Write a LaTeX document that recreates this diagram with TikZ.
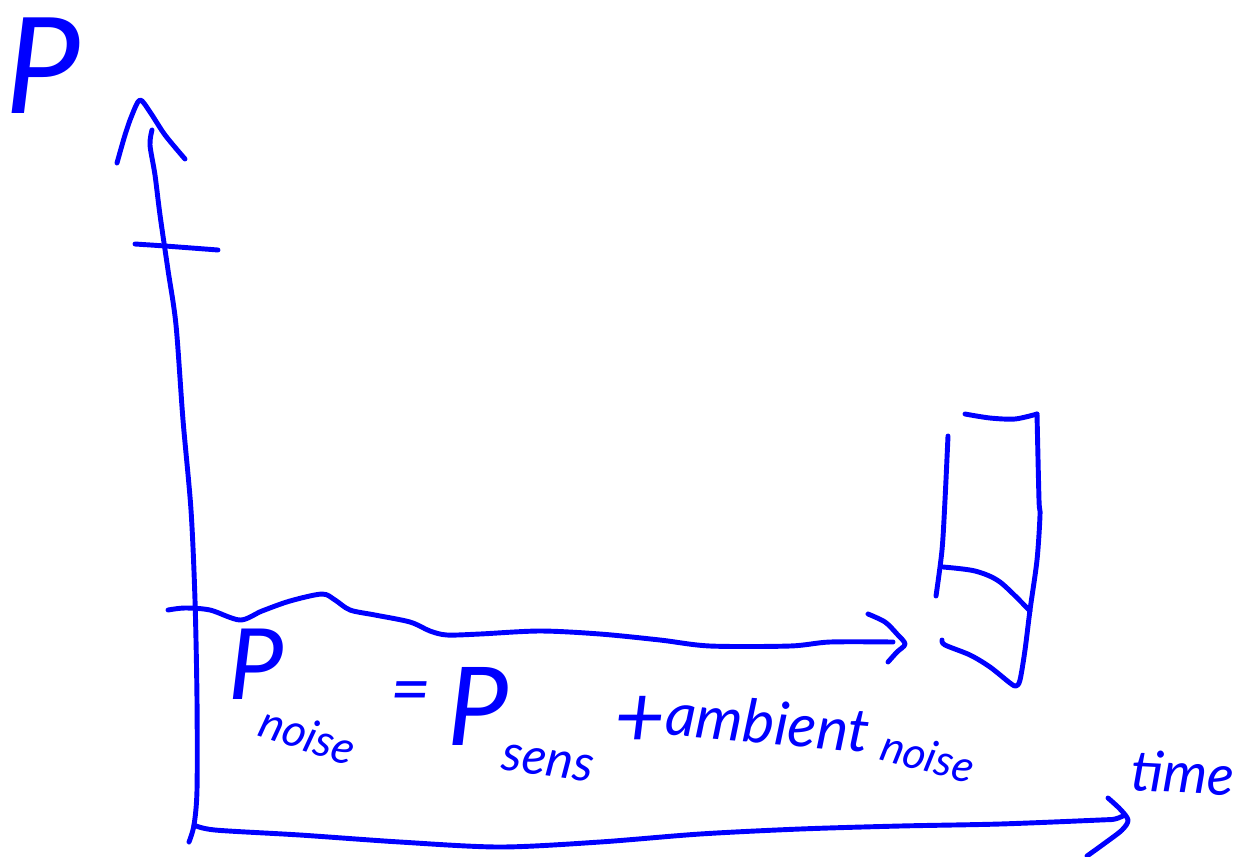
\documentclass[tikz,border=0pt]{standalone}
\usepackage{fontspec}
\setmainfont{Lato}
\usetikzlibrary{calc}

\tikzset{
  pen/.style={blue,line width=2.8pt,line cap=round,line join=round},
  ink/.style={blue,inner sep=0pt,font=\itshape},
}
\newcommand{\inksize}[1]{\fontsize{#1}{#1}\selectfont}

\begin{document}
\begin{tikzpicture}[
        x=0.02cm,
        y=-0.02cm
      ]
        \useasboundingbox (0,0) rectangle (1240,856);

        % Axes ----------------------------------------------------
        \draw[pen] plot[smooth] coordinates {(152,130) (150,145) (155,175) (160,215) (168,270) (176,325) (183,420) (191,510) (195,600) (197,700) (197,790) (194,825) (189,842)}; % y-axis
        \draw[pen] plot[smooth] coordinates {(117,163) (125,135) (132,115) (140,100) (150,112) (165,135) (185,159)};
        \draw[pen] plot[smooth] coordinates {(194,825) (215,830) (300,835) (400,842) (500,847) (600,842) (700,834) (800,829) (900,826) (1000,824) (1100,820) (1115,819) (1125,815)}; % x-axis
        \draw[pen] plot[smooth] coordinates {(1108,798) (1120,809) (1128,820) (1122,830) (1105,843) (1087,856)};

        % Tick on the y-axis
        \draw[pen] plot[smooth] coordinates {(135,244) (165,246) (218,250)};

        % Noise level ---------------------------------------------
        \draw[pen] plot[smooth] coordinates {(168,610) (185,608) (210,610) (240,620) (262,611) (290,601) (322,594) (335,600) (350,610) (375,615) (410,622) (430,631) (447,635) (480,634) (540,631) (600,634) (660,640) (710,646) (790,646) (830,642) (893,642)};
        \draw[pen] plot[smooth] coordinates {(868,614) (885,622) (897,634) (905,644) (897,652) (888,662)};

        % Bar at the end ------------------------------------------
        \draw[pen] plot[smooth] coordinates {(948,436) (945,500) (942,550) (936,596)};
        \draw[pen] plot[smooth] coordinates {(965,414) (990,418) (1015,419) (1037,414)};
        \draw[pen] plot[smooth] coordinates {(1037,414) (1039,500) (1040,515) (1037,560) (1030,610) (1025,650) (1020,680) (1016,686) (1010,683) (990,667) (970,655) (945,645) (942,640)};
        \draw[pen] plot[smooth] coordinates {(943,567) (975,571) (1000,582) (1030,611)};

        % Labels --------------------------------------------------
        \node[ink] (powerlabel) at (43,66) {\inksize{76}P};
        \node[ink] (noiseP) at (256,664) {\inksize{56}P};
        \node[ink,rotate=-18] (noisesub) at (308,735) {\inksize{26}noise};
        \node[ink] (equals) at (411,698) {\inksize{40}=};
        \node[ink] (sensP) at (478,706) {\inksize{62}P};
        \node[ink,rotate=-8] (senssub) at (548,763) {\inksize{29}sens};
        \node[ink] (plus) at (640,722) {\inksize{50}+};
        \node[ink,rotate=-5] (ambient) at (768,722) {\inksize{34}ambient};
        \node[ink,rotate=-15] (ambnoise) at (928,756) {\inksize{25}noise};
        \node[ink,rotate=-3,anchor=west] (timelabel) at (1131,770) {\inksize{32}time};

      \end{tikzpicture}
\end{document}
